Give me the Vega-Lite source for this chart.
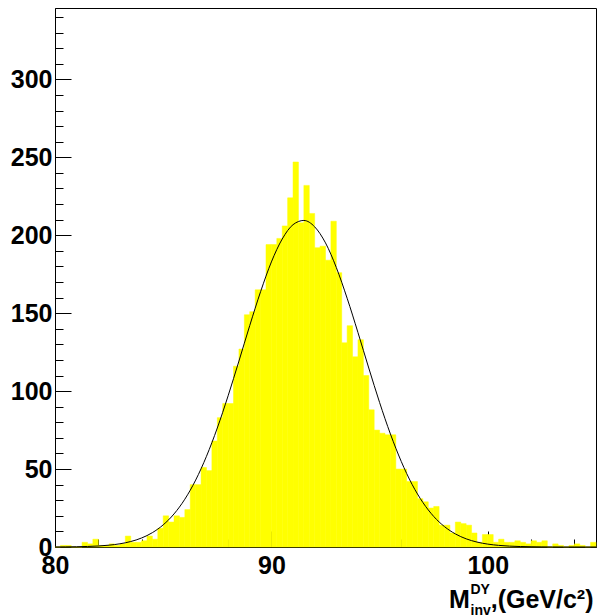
{
  "$schema": "https://vega.github.io/schema/vega-lite/v6.json",
  "width": 541,
  "height": 539,
  "autosize": "none",
  "padding": {"left": 55, "top": 8, "right": 1, "bottom": 68},
  "background": "white",
  "config": {
    "view": {"stroke": "black", "strokeWidth": 1},
    "axis": {
      "grid": false,
      "domainColor": "black",
      "domainWidth": 1,
      "tickColor": "black",
      "tickWidth": 1,
      "labelColor": "black",
      "labelFont": "Liberation Sans",
      "labelFontWeight": "bold",
      "labelFontSize": 25,
      "titleFont": "Liberation Sans",
      "titleFontWeight": "bold",
      "titleColor": "black",
      "zindex": 1
    }
  },
  "datasets": {
    "hist": [
      {"lo": 80.0, "hi": 80.25, "n": 0}, {"lo": 80.25, "hi": 80.5, "n": 1}, {"lo": 80.5, "hi": 80.75, "n": 1}, {"lo": 80.75, "hi": 81.0, "n": 0},
      {"lo": 81.0, "hi": 81.25, "n": 0}, {"lo": 81.25, "hi": 81.5, "n": 3}, {"lo": 81.5, "hi": 81.75, "n": 2}, {"lo": 81.75, "hi": 82.0, "n": 5},
      {"lo": 82.0, "hi": 82.25, "n": 1}, {"lo": 82.25, "hi": 82.5, "n": 1}, {"lo": 82.5, "hi": 82.75, "n": 2}, {"lo": 82.75, "hi": 83.0, "n": 1},
      {"lo": 83.0, "hi": 83.25, "n": 2}, {"lo": 83.25, "hi": 83.5, "n": 7}, {"lo": 83.5, "hi": 83.75, "n": 3}, {"lo": 83.75, "hi": 84.0, "n": 3},
      {"lo": 84.0, "hi": 84.25, "n": 4}, {"lo": 84.25, "hi": 84.5, "n": 7}, {"lo": 84.5, "hi": 84.75, "n": 5}, {"lo": 84.75, "hi": 85.0, "n": 12},
      {"lo": 85.0, "hi": 85.25, "n": 20}, {"lo": 85.25, "hi": 85.5, "n": 16}, {"lo": 85.5, "hi": 85.75, "n": 20}, {"lo": 85.75, "hi": 86.0, "n": 19},
      {"lo": 86.0, "hi": 86.25, "n": 24}, {"lo": 86.25, "hi": 86.5, "n": 40}, {"lo": 86.5, "hi": 86.75, "n": 40}, {"lo": 86.75, "hi": 87.0, "n": 51},
      {"lo": 87.0, "hi": 87.25, "n": 49}, {"lo": 87.25, "hi": 87.5, "n": 68}, {"lo": 87.5, "hi": 87.75, "n": 83}, {"lo": 87.75, "hi": 88.0, "n": 92},
      {"lo": 88.0, "hi": 88.25, "n": 92}, {"lo": 88.25, "hi": 88.5, "n": 116}, {"lo": 88.5, "hi": 88.75, "n": 127}, {"lo": 88.75, "hi": 89.0, "n": 149},
      {"lo": 89.0, "hi": 89.25, "n": 151}, {"lo": 89.25, "hi": 89.5, "n": 165}, {"lo": 89.5, "hi": 89.75, "n": 165}, {"lo": 89.75, "hi": 90.0, "n": 194},
      {"lo": 90.0, "hi": 90.25, "n": 194}, {"lo": 90.25, "hi": 90.5, "n": 198}, {"lo": 90.5, "hi": 90.75, "n": 206}, {"lo": 90.75, "hi": 91.0, "n": 224},
      {"lo": 91.0, "hi": 91.25, "n": 247}, {"lo": 91.25, "hi": 91.5, "n": 208}, {"lo": 91.5, "hi": 91.75, "n": 232}, {"lo": 91.75, "hi": 92.0, "n": 214},
      {"lo": 92.0, "hi": 92.25, "n": 192}, {"lo": 92.25, "hi": 92.5, "n": 193}, {"lo": 92.5, "hi": 92.75, "n": 184}, {"lo": 92.75, "hi": 93.0, "n": 209},
      {"lo": 93.0, "hi": 93.25, "n": 176}, {"lo": 93.25, "hi": 93.5, "n": 131}, {"lo": 93.5, "hi": 93.75, "n": 142}, {"lo": 93.75, "hi": 94.0, "n": 122},
      {"lo": 94.0, "hi": 94.25, "n": 133}, {"lo": 94.25, "hi": 94.5, "n": 110}, {"lo": 94.5, "hi": 94.75, "n": 88}, {"lo": 94.75, "hi": 95.0, "n": 75},
      {"lo": 95.0, "hi": 95.25, "n": 73}, {"lo": 95.25, "hi": 95.5, "n": 72}, {"lo": 95.5, "hi": 95.75, "n": 72}, {"lo": 95.75, "hi": 96.0, "n": 50},
      {"lo": 96.0, "hi": 96.25, "n": 50}, {"lo": 96.25, "hi": 96.5, "n": 42}, {"lo": 96.5, "hi": 96.75, "n": 42}, {"lo": 96.75, "hi": 97.0, "n": 31},
      {"lo": 97.0, "hi": 97.25, "n": 29}, {"lo": 97.25, "hi": 97.5, "n": 25}, {"lo": 97.5, "hi": 97.75, "n": 26}, {"lo": 97.75, "hi": 98.0, "n": 14},
      {"lo": 98.0, "hi": 98.25, "n": 14}, {"lo": 98.25, "hi": 98.5, "n": 9}, {"lo": 98.5, "hi": 98.75, "n": 16}, {"lo": 98.75, "hi": 99.0, "n": 15},
      {"lo": 99.0, "hi": 99.25, "n": 14}, {"lo": 99.25, "hi": 99.5, "n": 9}, {"lo": 99.5, "hi": 99.75, "n": 3}, {"lo": 99.75, "hi": 100.0, "n": 8},
      {"lo": 100.0, "hi": 100.25, "n": 8}, {"lo": 100.25, "hi": 100.5, "n": 3}, {"lo": 100.5, "hi": 100.75, "n": 5}, {"lo": 100.75, "hi": 101.0, "n": 3},
      {"lo": 101.0, "hi": 101.25, "n": 3}, {"lo": 101.25, "hi": 101.5, "n": 4}, {"lo": 101.5, "hi": 101.75, "n": 3}, {"lo": 101.75, "hi": 102.0, "n": 2},
      {"lo": 102.0, "hi": 102.25, "n": 4}, {"lo": 102.25, "hi": 102.5, "n": 3}, {"lo": 102.5, "hi": 102.75, "n": 4}, {"lo": 102.75, "hi": 103.0, "n": 0},
      {"lo": 103.0, "hi": 103.25, "n": 2}, {"lo": 103.25, "hi": 103.5, "n": 1}, {"lo": 103.5, "hi": 103.75, "n": 0}, {"lo": 103.75, "hi": 104.0, "n": 1},
      {"lo": 104.0, "hi": 104.25, "n": 2}, {"lo": 104.25, "hi": 104.5, "n": 1}, {"lo": 104.5, "hi": 104.75, "n": 0}, {"lo": 104.75, "hi": 105.0, "n": 3}
    ],
    "fit": [
      {"m": 80.0, "f": 0.043}, {"m": 80.5, "f": 0.09}, {"m": 81.0, "f": 0.179}, {"m": 81.5, "f": 0.347},
      {"m": 82.0, "f": 0.649}, {"m": 82.5, "f": 1.178}, {"m": 83.0, "f": 2.064}, {"m": 83.5, "f": 3.51},
      {"m": 84.0, "f": 5.78}, {"m": 84.5, "f": 9.21}, {"m": 85.0, "f": 14.2}, {"m": 85.5, "f": 21.22},
      {"m": 86.0, "f": 30.67}, {"m": 86.5, "f": 42.93}, {"m": 87.0, "f": 58.19}, {"m": 87.5, "f": 76.35},
      {"m": 88.0, "f": 97.0}, {"m": 88.5, "f": 119.3}, {"m": 89.0, "f": 142.1}, {"m": 89.5, "f": 163.8},
      {"m": 90.0, "f": 182.9}, {"m": 90.5, "f": 197.6}, {"m": 91.0, "f": 206.8}, {"m": 91.5, "f": 209.5},
      {"m": 92.0, "f": 205.4}, {"m": 92.5, "f": 195.1}, {"m": 93.0, "f": 179.3}, {"m": 93.5, "f": 159.6},
      {"m": 94.0, "f": 137.6}, {"m": 94.5, "f": 114.8}, {"m": 95.0, "f": 92.7}, {"m": 95.5, "f": 72.5},
      {"m": 96.0, "f": 54.9}, {"m": 96.5, "f": 40.2}, {"m": 97.0, "f": 28.55}, {"m": 97.5, "f": 19.62},
      {"m": 98.0, "f": 13.05}, {"m": 98.5, "f": 8.41}, {"m": 99.0, "f": 5.24}, {"m": 99.5, "f": 3.16},
      {"m": 100.0, "f": 1.85}, {"m": 100.5, "f": 1.05}, {"m": 101.0, "f": 0.57}, {"m": 101.5, "f": 0.3},
      {"m": 102.0, "f": 0.156}, {"m": 102.5, "f": 0.077}, {"m": 103.0, "f": 0.037}, {"m": 103.5, "f": 0.017},
      {"m": 104.0, "f": 0.007}, {"m": 104.5, "f": 0.003}, {"m": 105.0, "f": 0.001}
    ]
  },
  "layer": [
    {
      "data": {"name": "hist"},
      "mark": {"type": "bar", "fill": "#ffff00", "stroke": "#ffff00", "strokeWidth": 0.5},
      "encoding": {
        "x": {
          "field": "lo",
          "type": "quantitative",
          "scale": {"domain": [80, 105], "nice": false, "zero": false},
          "axis": {
            "orient": "bottom",
            "values": [80, 90, 100],
            "format": "d",
            "tickSize": -16,
            "labelPadding": 22,
            "labelFlush": false,
            "labelOverlap": false,
            "title": "M\u00a0\u00a0\u00a0,(GeV/c\u00b2)",
            "titleFontSize": 25,
            "titleAlign": "right",
            "titleAnchor": "end",
            "titleX": 538,
            "titleY": 60,
            "titleBaseline": "alphabetic"
          }
        },
        "x2": {"field": "hi"},
        "y": {
          "field": "n",
          "type": "quantitative",
          "scale": {"domain": [0, 345.8], "nice": false, "zero": true},
          "axis": {
            "orient": "left",
            "values": [0, 50, 100, 150, 200, 250, 300],
            "format": "d",
            "tickSize": -16,
            "labelPadding": 19,
            "labelFlush": false,
            "labelOverlap": false,
            "title": null
          }
        },
        "y2": {"datum": 0}
      }
    },
    {
      "data": {"name": "fit"},
      "mark": {"type": "line", "color": "black", "strokeWidth": 1, "interpolate": "monotone"},
      "encoding": {
        "x": {
          "field": "m",
          "type": "quantitative",
          "scale": {"domain": [80, 105], "nice": false, "zero": false},
          "axis": {
            "orient": "bottom",
            "values": [82, 84, 86, 88, 92, 94, 96, 98, 102, 104],
            "tickSize": -8,
            "labels": false,
            "domain": false,
            "title": ["DY", "inv"],
            "titleFontSize": 14,
            "titleAlign": "left",
            "titleAnchor": "start",
            "titleX": 415,
            "titleY": 46,
            "titleBaseline": "alphabetic",
            "titleLineHeight": 21
          }
        },
        "y": {
          "field": "f",
          "type": "quantitative",
          "scale": {"domain": [0, 345.8], "nice": false, "zero": true},
          "axis": {
            "orient": "left",
            "values": [10, 20, 30, 40, 60, 70, 80, 90, 110, 120, 130, 140, 160, 170, 180, 190, 210, 220, 230, 240, 260, 270, 280, 290, 310, 320, 330, 340],
            "tickSize": -8,
            "labels": false,
            "domain": false,
            "title": null
          }
        }
      }
    }
  ],
  "resolve": {"axis": {"x": "independent", "y": "independent"}}
}
